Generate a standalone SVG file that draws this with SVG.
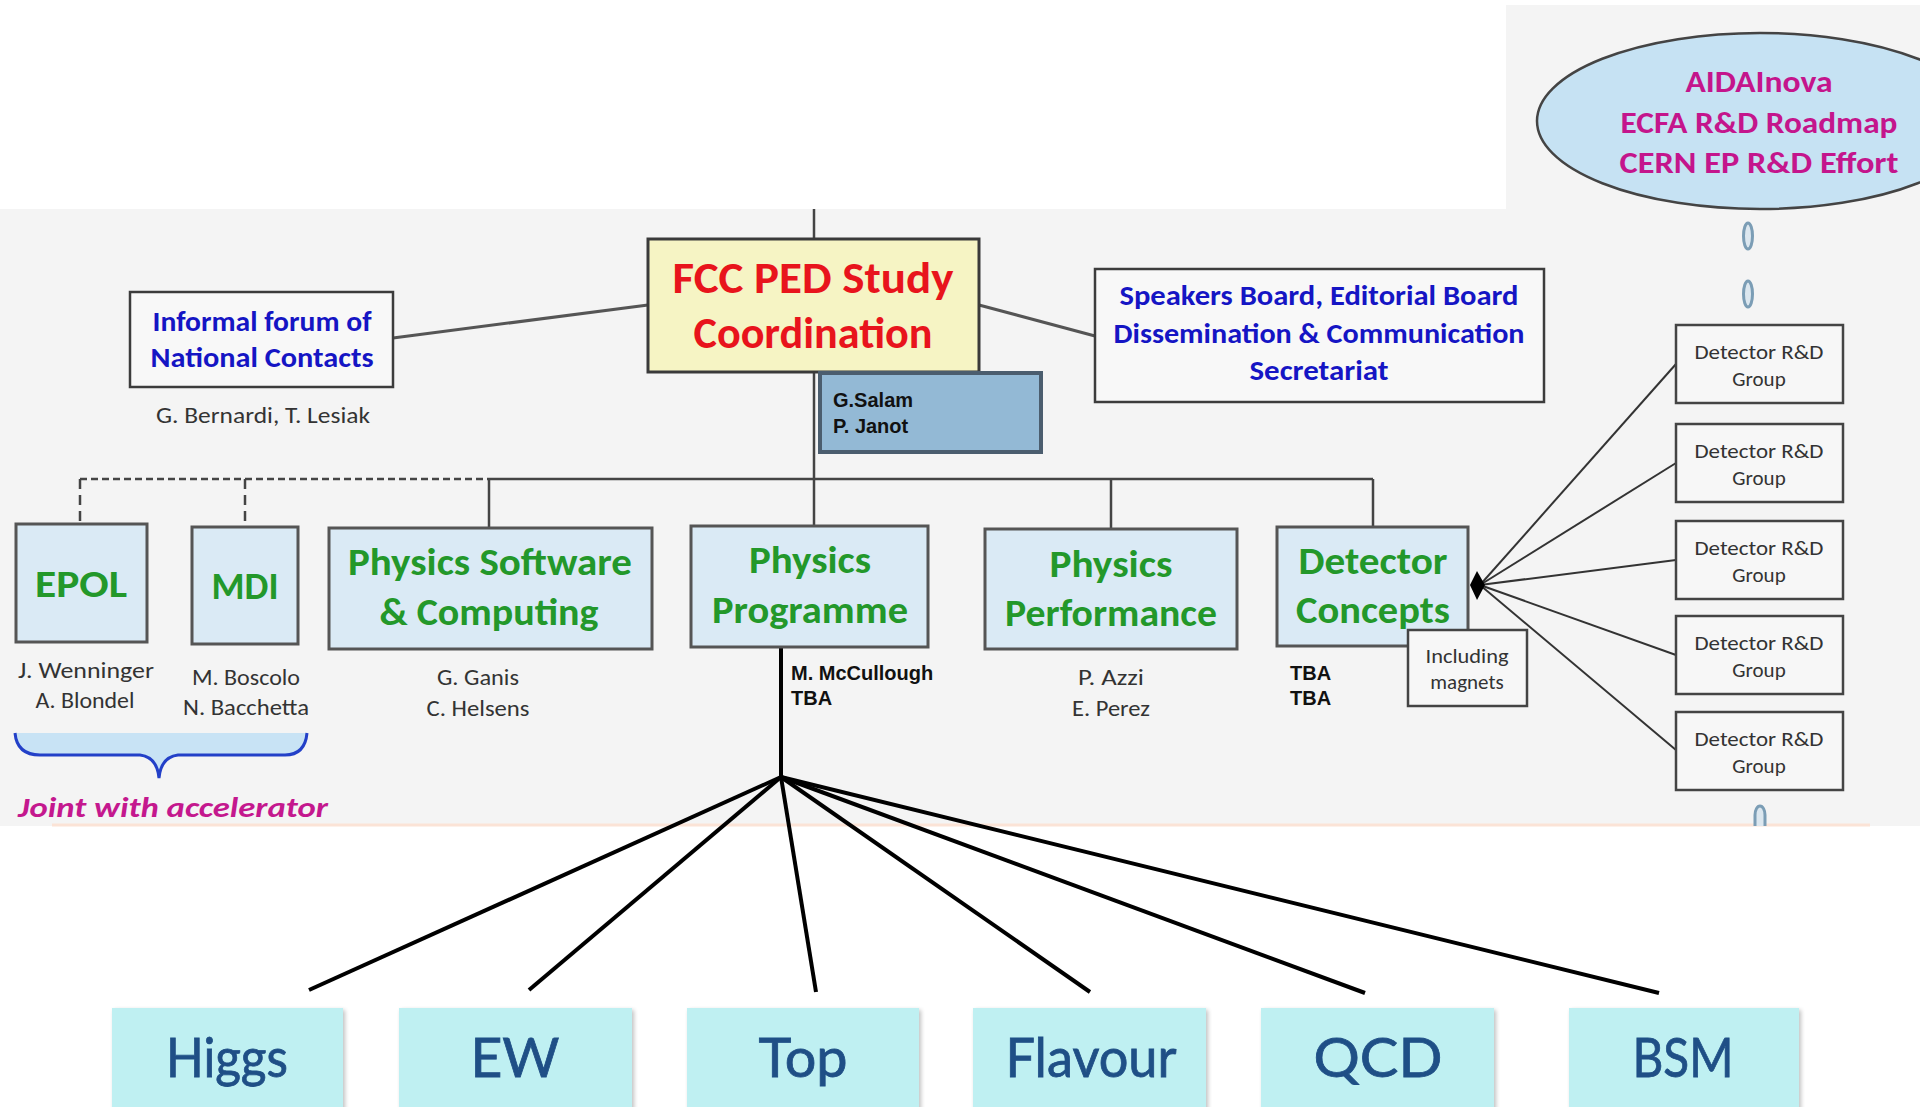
<svg xmlns="http://www.w3.org/2000/svg" width="1920" height="1107" viewBox="0 0 1920 1107">
<style>
.bg{fill:#f4f4f4}
.box{fill:#daeaf5;stroke:#555;stroke-width:3}
.wbox{fill:#f8f8f8;stroke:#3c3c3c;stroke-width:2.5}
.rd{fill:#f7f7f7;stroke:#444;stroke-width:2.5}
.green{font-family:Carlito,Lato,"Open Sans",sans-serif;font-weight:bold;font-size:39px;fill:#23982a;text-anchor:middle}
.blue{font-family:Carlito,Lato,"Open Sans",sans-serif;font-weight:bold;font-size:28px;fill:#1515c4;text-anchor:middle}
.mag{font-family:Carlito,Lato,"Open Sans",sans-serif;font-weight:bold;font-size:31px;fill:#c4158c;text-anchor:middle}
.name{font-family:Carlito,Lato,"Open Sans",sans-serif;font-size:23px;fill:#333;text-anchor:middle}
.small{font-family:Carlito,Lato,"Open Sans",sans-serif;font-size:21px;fill:#333;text-anchor:middle}
.arial{font-family:"Liberation Sans",Arial,sans-serif;font-weight:bold;font-size:20px;fill:#111}
.topic{fill:#bff0f2;filter:url(#sh)}
.tt{font-family:Lato,"Open Sans",sans-serif;font-size:55px;fill:#1f4f86;text-anchor:middle;stroke:#1f4f86;stroke-width:0.8}
.ln{stroke:#444;stroke-width:2.5;fill:none}
.dash{stroke:#444;stroke-width:2.5;fill:none;stroke-dasharray:7 4}
.vdash{stroke:#444;stroke-width:2.5;fill:none;stroke-dasharray:10 6}
.hub{stroke:#333;stroke-width:2;fill:none}
.fan{stroke:#000;stroke-width:4;fill:none}
.oval{fill:#dce7ef;stroke:#7b9db5;stroke-width:3}
</style>
<defs>
<filter id="sh" x="-5%" y="-5%" width="115%" height="115%">
<feGaussianBlur in="SourceAlpha" stdDeviation="2"/>
<feOffset dx="2" dy="2" result="b"/>
<feComponentTransfer><feFuncA type="linear" slope="0.25"/></feComponentTransfer>
<feMerge><feMergeNode/><feMergeNode in="SourceGraphic"/></feMerge>
</filter>
</defs>

<rect x="0" y="0" width="1920" height="1107" fill="#ffffff"/>
<rect class="bg" x="0" y="209" width="1920" height="617"/>
<rect class="bg" x="1506" y="5" width="414" height="205"/>
<line x1="52" y1="825" x2="1870" y2="825" stroke="#fbe3d6" stroke-width="3"/>

<g id="connectors">
<line class="ln" x1="393" y1="338" x2="648" y2="305" style="stroke:#555;stroke-width:3"/>
<line class="ln" x1="979" y1="305" x2="1095" y2="336" style="stroke:#555;stroke-width:3"/>
<line class="ln" x1="814" y1="209" x2="814" y2="239"/>
<line class="ln" x1="814" y1="372" x2="814" y2="526"/>
<line class="ln" x1="489" y1="479" x2="1373" y2="479"/>
<line class="ln" x1="489" y1="479" x2="489" y2="528"/>
<line class="ln" x1="1111" y1="479" x2="1111" y2="529"/>
<line class="ln" x1="1373" y1="479" x2="1373" y2="527"/>
<line class="dash" x1="80" y1="479" x2="489" y2="479"/>
<line class="vdash" x1="80" y1="479" x2="80" y2="524"/>
<line class="vdash" x1="245" y1="479" x2="245" y2="527"/>
<g class="hub">
<line x1="1480" y1="585" x2="1676" y2="364"/>
<line x1="1480" y1="585" x2="1676" y2="463"/>
<line x1="1480" y1="585" x2="1676" y2="560"/>
<line x1="1480" y1="585" x2="1676" y2="655"/>
<line x1="1480" y1="585" x2="1676" y2="750"/>
</g>
<polygon points="1477,571 1485,585 1477,600 1470,585" fill="#000"/>
<ellipse class="oval" cx="1748" cy="236" rx="4.5" ry="13"/>
<ellipse class="oval" cx="1748" cy="294" rx="4.5" ry="13"/>
<path class="oval" d="M1755,826 L1755,815 A5,9 0 0 1 1765,815 L1765,826"/>
<line class="fan" x1="781" y1="647" x2="781" y2="777"/>
<g class="fan">
<line x1="781" y1="777" x2="309" y2="990"/>
<line x1="781" y1="777" x2="529" y2="990"/>
<line x1="781" y1="777" x2="816" y2="992"/>
<line x1="781" y1="777" x2="1090" y2="992"/>
<line x1="781" y1="777" x2="1365" y2="993"/>
<line x1="781" y1="777" x2="1659" y2="993"/>
</g>
</g>

<g id="aida">
<ellipse cx="1760" cy="121" rx="223" ry="88" fill="#c6e2f3" stroke="#444" stroke-width="2.5"/>
<text class="mag" x="1759" y="92" textLength="147" lengthAdjust="spacingAndGlyphs">AIDAInova</text>
<text class="mag" x="1759" y="133" textLength="277" lengthAdjust="spacingAndGlyphs">ECFA R&amp;D Roadmap</text>
<text class="mag" x="1759" y="173" textLength="279" lengthAdjust="spacingAndGlyphs">CERN EP R&amp;D Effort</text>
</g>

<g id="fcc">
<rect x="648" y="239" width="331" height="133" fill="#f6f4c4" stroke="#3a3a3a" stroke-width="3"/>
<text x="813" y="293" textLength="281" lengthAdjust="spacingAndGlyphs" style="font-family:Carlito,Lato,sans-serif;font-weight:bold;font-size:45px;fill:#e8141c;text-anchor:middle">FCC PED Study</text>
<text x="813" y="348" textLength="239" lengthAdjust="spacingAndGlyphs" style="font-family:Carlito,Lato,sans-serif;font-weight:bold;font-size:45px;fill:#e8141c;text-anchor:middle">Coordination</text>
</g>

<g id="salam">
<rect x="820" y="373" width="221" height="79" fill="#93b9d5" stroke="#4b5d6e" stroke-width="4"/>
<text class="arial" x="833" y="407">G.Salam</text>
<text class="arial" x="833" y="433">P. Janot</text>
</g>

<g id="informal">
<rect class="wbox" x="130" y="292" width="263" height="95"/>
<text class="blue" x="262" y="331" textLength="219" lengthAdjust="spacingAndGlyphs">Informal forum of</text>
<text class="blue" x="262" y="367" textLength="223" lengthAdjust="spacingAndGlyphs">National Contacts</text>
<text class="name" x="263" y="423" textLength="214" lengthAdjust="spacingAndGlyphs">G. Bernardi, T. Lesiak</text>
</g>

<g id="speakers">
<rect class="wbox" x="1095" y="269" width="449" height="133"/>
<text class="blue" x="1319" y="305" textLength="399" lengthAdjust="spacingAndGlyphs">Speakers Board, Editorial Board</text>
<text class="blue" x="1319" y="343" textLength="411" lengthAdjust="spacingAndGlyphs">Dissemination &amp; Communication</text>
<text class="blue" x="1319" y="380" textLength="139" lengthAdjust="spacingAndGlyphs">Secretariat</text>
</g>

<g id="epol">
<rect class="box" x="16" y="524" width="131" height="118"/>
<text class="green" x="81" y="597" textLength="92" lengthAdjust="spacingAndGlyphs">EPOL</text>
<text class="name" x="86" y="678" textLength="136" lengthAdjust="spacingAndGlyphs">J. Wenninger</text>
<text class="name" x="85" y="708" textLength="99" lengthAdjust="spacingAndGlyphs">A. Blondel</text>
</g>

<g id="mdi">
<rect class="box" x="192" y="527" width="106" height="117"/>
<text class="green" x="245" y="599" textLength="67" lengthAdjust="spacingAndGlyphs">MDI</text>
<text class="name" x="246" y="685" textLength="108" lengthAdjust="spacingAndGlyphs">M. Boscolo</text>
<text class="name" x="246" y="715" textLength="126" lengthAdjust="spacingAndGlyphs">N. Bacchetta</text>
</g>

<g id="joint">
<path d="M15,733 Q17,755 40,755 L140,755 Q157,757 159,778 Q161,757 178,755 L285,755 Q305,755 307,733 Z" fill="#c8e3f5"/>
<path d="M15,733 Q17,755 40,755 L140,755 Q157,757 159,778 Q161,757 178,755 L285,755 Q305,755 307,733" fill="none" stroke="#2340c8" stroke-width="3"/>
<text x="18" y="817" textLength="310" lengthAdjust="spacingAndGlyphs" style="font-family:Carlito,Lato,sans-serif;font-weight:bold;font-style:italic;font-size:29px;fill:#c4188e">Joint with accelerator</text>
</g>

<g id="software">
<rect class="box" x="329" y="528" width="323" height="121"/>
<text class="green" x="490" y="575" textLength="284" lengthAdjust="spacingAndGlyphs">Physics Software</text>
<text class="green" x="489" y="625" textLength="219" lengthAdjust="spacingAndGlyphs">&amp; Computing</text>
<text class="name" x="478" y="685" textLength="82" lengthAdjust="spacingAndGlyphs">G. Ganis</text>
<text class="name" x="478" y="716" textLength="103" lengthAdjust="spacingAndGlyphs">C. Helsens</text>
</g>

<g id="programme">
<rect class="box" x="691" y="526" width="237" height="121"/>
<text class="green" x="810" y="573" textLength="122" lengthAdjust="spacingAndGlyphs">Physics</text>
<text class="green" x="810" y="623" textLength="196" lengthAdjust="spacingAndGlyphs">Programme</text>
<text class="arial" x="791" y="680">M. McCullough</text>
<text class="arial" x="791" y="705">TBA</text>
</g>

<g id="performance">
<rect class="box" x="985" y="529" width="252" height="120"/>
<text class="green" x="1111" y="577" textLength="123" lengthAdjust="spacingAndGlyphs">Physics</text>
<text class="green" x="1111" y="626" textLength="212" lengthAdjust="spacingAndGlyphs">Performance</text>
<text class="name" x="1111" y="685" textLength="66" lengthAdjust="spacingAndGlyphs">P. Azzi</text>
<text class="name" x="1111" y="716" textLength="78" lengthAdjust="spacingAndGlyphs">E. Perez</text>
</g>

<g id="detector">
<rect class="box" x="1277" y="527" width="191" height="119"/>
<text class="green" x="1373" y="574" textLength="149" lengthAdjust="spacingAndGlyphs">Detector</text>
<text class="green" x="1373" y="623" textLength="154" lengthAdjust="spacingAndGlyphs">Concepts</text>
<text class="arial" x="1290" y="680">TBA</text>
<text class="arial" x="1290" y="705">TBA</text>
</g>

<g id="magnets">
<rect class="rd" x="1408" y="630" width="119" height="76"/>
<text class="small" x="1467" y="663" textLength="83" lengthAdjust="spacingAndGlyphs">Including</text>
<text class="small" x="1467" y="689">magnets</text>
</g>

<g id="rd1"><rect class="rd" x="1676" y="325" width="167" height="78"/><text class="small" x="1759" y="359" textLength="129" lengthAdjust="spacingAndGlyphs">Detector R&amp;D</text><text class="small" x="1759" y="386">Group</text></g>
<g id="rd2"><rect class="rd" x="1676" y="424" width="167" height="78"/><text class="small" x="1759" y="458" textLength="129" lengthAdjust="spacingAndGlyphs">Detector R&amp;D</text><text class="small" x="1759" y="485">Group</text></g>
<g id="rd3"><rect class="rd" x="1676" y="521" width="167" height="78"/><text class="small" x="1759" y="555" textLength="129" lengthAdjust="spacingAndGlyphs">Detector R&amp;D</text><text class="small" x="1759" y="582">Group</text></g>
<g id="rd4"><rect class="rd" x="1676" y="616" width="167" height="78"/><text class="small" x="1759" y="650" textLength="129" lengthAdjust="spacingAndGlyphs">Detector R&amp;D</text><text class="small" x="1759" y="677">Group</text></g>
<g id="rd5"><rect class="rd" x="1676" y="712" width="167" height="78"/><text class="small" x="1759" y="746" textLength="129" lengthAdjust="spacingAndGlyphs">Detector R&amp;D</text><text class="small" x="1759" y="773">Group</text></g>

<g id="higgs"><rect class="topic" x="112" y="1008" width="231" height="110"/><text class="tt" x="227" y="1077" textLength="122" lengthAdjust="spacingAndGlyphs">Higgs</text></g>
<g id="ew"><rect class="topic" x="399" y="1008" width="233" height="110"/><text class="tt" x="515" y="1077" textLength="89" lengthAdjust="spacingAndGlyphs">EW</text></g>
<g id="top"><rect class="topic" x="687" y="1008" width="232" height="110"/><text class="tt" x="803" y="1077" textLength="89" lengthAdjust="spacingAndGlyphs">Top</text></g>
<g id="flavour"><rect class="topic" x="973" y="1008" width="233" height="110"/><text class="tt" x="1091" y="1077" textLength="171" lengthAdjust="spacingAndGlyphs">Flavour</text></g>
<g id="qcd"><rect class="topic" x="1261" y="1008" width="233" height="110"/><text class="tt" x="1378" y="1077" textLength="129" lengthAdjust="spacingAndGlyphs">QCD</text></g>
<g id="bsm"><rect class="topic" x="1569" y="1008" width="230" height="110"/><text class="tt" x="1683" y="1077" textLength="101" lengthAdjust="spacingAndGlyphs">BSM</text></g>
</svg>
